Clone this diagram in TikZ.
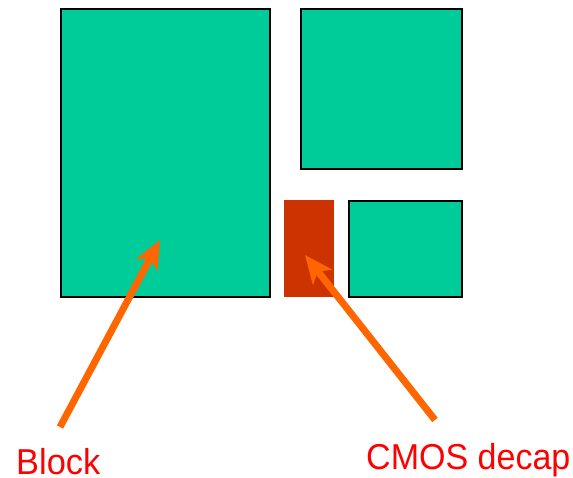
\documentclass[tikz,border=0pt]{standalone}
\usepackage{fontspec}
\setmainfont{Liberation Sans}
\usetikzlibrary{arrows.meta}
\definecolor{blockgreen}{HTML}{00CC99}
\definecolor{decapred}{HTML}{CC3300}
\definecolor{arroworange}{HTML}{FF6600}
\definecolor{labelred}{HTML}{FF0000}
\tikzset{
  blockbox/.style={draw=black, line width=2pt, fill=blockgreen},
  decapbox/.style={fill=decapred},
  pointer/.style={draw=arroworange, line width=7pt,
    -{Stealth[length=28pt, width=24pt, inset=7pt]}},
  caption/.style={text=labelred, font=\fontsize{36}{40}\selectfont, inner sep=0pt, anchor=base west}
}
\newcommand{\narrow}[2]{\scalebox{#1}[1]{#2}}
\begin{document}
\begin{tikzpicture}[x=1pt, y=-1pt]
  \useasboundingbox (0,0) rectangle (573,478);
  % floorplan blocks
  \path[blockbox] (61,9) rectangle (270,297);
  \path[blockbox] (301,9) rectangle (462,169);
  \path[blockbox] (349,201) rectangle (462,297);
  % decoupling capacitor
  \path[decapbox] (284,200) rectangle (334,297);
  % anchor points for the pointers
  \coordinate (blocktip) at (160,240);
  \coordinate (decaptip) at (305,255);
  \coordinate (blocktail) at (60,427);
  \coordinate (decaptail) at (435,420);
  % labels
  \node[caption] (blocklabel) at (16,474) {\narrow{0.955}{Block}};
  \node[caption] (decaplabel) at (366,469) {\narrow{0.945}{CMOS decap}};
  % pointers
  \draw[pointer] (blocktail) -- (blocktip);
  \draw[pointer] (decaptail) -- (decaptip);
\end{tikzpicture}
\end{document}
